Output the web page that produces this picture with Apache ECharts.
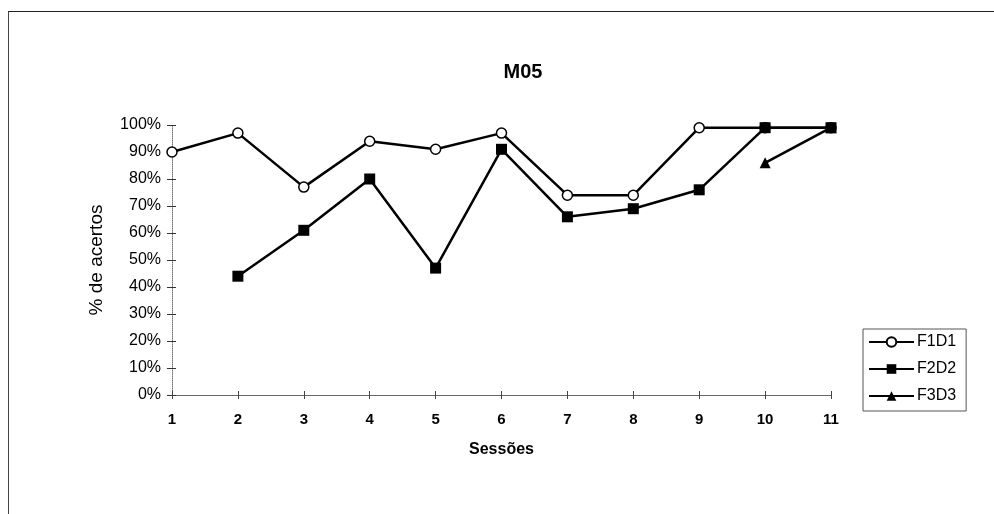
<!DOCTYPE html>
<html>
<head>
<meta charset="utf-8">
<script src="https://cdn.jsdelivr.net/npm/echarts@6/dist/echarts.min.js"></script>
<style>
html,body{margin:0;padding:0;background:#fff;}
#frame{position:absolute;left:8px;top:11px;width:990px;height:520px;border-top:1px solid #222;border-left:1px solid #444;box-sizing:border-box;}
#chart{position:absolute;left:0;top:0;width:994px;height:514px;}
</style>
</head>
<body>
<div id="frame"></div>
<div id="chart"></div>
<script>
const sessions = ['1','2','3','4','5','6','7','8','9','10','11'];
const yTicks = [0,10,20,30,40,50,60,70,80,90,100];
const F1D1 = [90, 97, 77, 94, 91, 97, 74, 74, 99, 99, 99];
const F2D2 = [null, 44, 61, 80, 47, 91, 66, 69, 76, 99, 99];
const F3D3 = [null, null, null, null, null, null, null, null, null, 86, 99];

const font = 'Liberation Sans, Arial, sans-serif';
const chart = echarts.init(document.getElementById('chart'), null, {renderer:'canvas'});
const lineStyle = {color:'#000', width:2.5};
chart.setOption({
  animation:false,
  backgroundColor:'transparent',
  title:{text:'M05', left:518, top:57, textAlign:'center',
    textStyle:{fontFamily:font, fontSize:20, fontWeight:'bold', color:'#000'}},
  grid:{left:172, right:163, top:125, bottom:119, containLabel:false},
  legend:{orient:'vertical', left:863, top:329, itemGap:11, itemWidth:45, itemHeight:12,
    padding:[5,10,7,5], borderColor:'#555', borderWidth:1,
    textStyle:{fontFamily:font, fontSize:16, color:'#000', padding:[0,0,0,-2]},
    data:['F1D1','F2D2','F3D3']},
  xAxis:[{type:'category', data:sessions, boundaryGap:false,
    name:'Sessões', nameLocation:'middle', nameGap:47,
    nameTextStyle:{fontFamily:font, fontSize:16, fontWeight:'bold', color:'#000'},
    axisLine:{lineStyle:{color:'#666', width:1}},
    axisTick:{show:true, alignWithLabel:true, length:4, lineStyle:{color:'#444'}},
    axisLabel:{fontFamily:font, fontSize:15, color:'#000', margin:17, fontWeight:'bold'},
    splitLine:{show:false}},
   {type:'category', data:sessions, boundaryGap:false, position:'bottom',
    axisLine:{show:false}, axisLabel:{show:false},
    axisTick:{show:true, inside:true, length:4, lineStyle:{color:'#444'}}, splitLine:{show:false}}],
  yAxis:[{type:'value', min:0, max:100, interval:10,
    name:'% de acertos', nameLocation:'middle', nameGap:66,
    nameTextStyle:{fontFamily:font, fontSize:19, color:'#000'},
    axisLine:{show:true, lineStyle:{color:'#777', width:1, type:'dotted'}},
    axisTick:{show:true, length:5, lineStyle:{color:'#333'}},
    axisLabel:{fontFamily:font, fontSize:16, color:'#000', margin:11, formatter:v=>v+'%'},
    splitLine:{show:false}},
   {type:'value', min:0, max:100, interval:10, position:'left',
    axisLine:{show:false}, axisLabel:{show:false},
    axisTick:{show:true, inside:true, length:4, lineStyle:{color:'#333'}}, splitLine:{show:false}}],
  series:[
    {name:'F1D1', type:'line', data:F1D1, symbol:'circle', symbolSize:10, z:3,
      lineStyle:lineStyle, itemStyle:{color:'#fff', borderColor:'#000', borderWidth:1.5}},
    {name:'F2D2', type:'line', data:F2D2, symbol:'rect', symbolSize:11, z:4,
      lineStyle:lineStyle, itemStyle:{color:'#000'}},
    {name:'F3D3', type:'line', data:F3D3, symbol:'triangle', symbolSize:11, z:2,
      lineStyle:lineStyle, itemStyle:{color:'#000'}}
  ]
});
</script>
</body>
</html>
